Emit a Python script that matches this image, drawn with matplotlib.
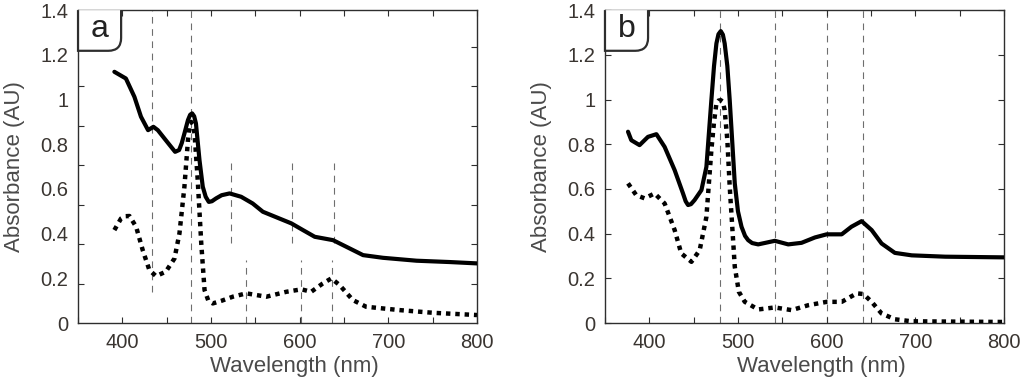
import numpy as np
import matplotlib
matplotlib.use('Agg')
import matplotlib.pyplot as plt
from matplotlib.path import Path
from matplotlib.patches import PathPatch
from matplotlib.ticker import MultipleLocator, FixedLocator

plt.rcParams['font.family'] = ['Liberation Sans', 'DejaVu Sans']

# panel a, solid spectrum
wl_a_solid = [391, 404, 413.6, 421, 429, 435, 440, 449, 459.5, 464, 467, 470, 474, 476.5,
              478.7, 481, 483, 487, 490.7, 494, 497.5, 501, 505.8, 512, 521, 534, 547,
              558.5, 577, 590.6, 603.7, 617, 637.6, 652.8, 671.5, 694, 731.8, 769.5, 800]
abs_a_solid = [1.124, 1.094, 1.012, 0.923, 0.863, 0.878, 0.863, 0.818, 0.766, 0.774, 0.805,
               0.848, 0.908, 0.932, 0.938, 0.925, 0.893, 0.729, 0.61, 0.565, 0.542, 0.545,
               0.558, 0.572, 0.58, 0.565, 0.535, 0.498, 0.468, 0.446, 0.416, 0.386, 0.371,
               0.341, 0.304, 0.292, 0.279, 0.273, 0.267]

# panel a, dotted spectrum
wl_a_dot = [391, 398.5, 403, 408, 415.5, 423, 430.5, 438, 449, 458.8, 464.4, 470, 474,
            476, 477.6, 479.5, 481.4, 485, 489, 492.7, 497, 502, 512, 524.6, 539.8, 562.4,
            585, 602, 613, 626, 635.8, 645, 660, 675, 713, 750.6, 800]
abs_a_dot = [0.416, 0.468, 0.478, 0.479, 0.431, 0.326, 0.237, 0.21, 0.23, 0.289, 0.401,
             0.61, 0.818, 0.885, 0.9, 0.89, 0.848, 0.64, 0.356, 0.148, 0.1, 0.088, 0.1,
             0.118, 0.133, 0.118, 0.14, 0.151, 0.14, 0.177, 0.2, 0.17, 0.103, 0.073,
             0.058, 0.046, 0.036]

# panel b, solid spectrum
wl_b_solid = [376, 379.7, 389, 398.5, 408, 417.3, 428.6, 438, 441, 443.7, 447, 451, 458.8,
              464.4, 470, 473, 475.7, 478, 480.6, 483, 485, 488, 490.7, 496.4, 500, 504,
              508, 511.5, 516, 522.8, 541.6, 556.7, 571.7, 586.8, 600, 617, 628, 639.5,
              650.8, 662, 677, 696, 733.7, 800]
abs_b_solid = [0.856, 0.818, 0.796, 0.833, 0.845, 0.788, 0.684, 0.58, 0.545, 0.528, 0.532,
               0.55, 0.595, 0.699, 0.997, 1.15, 1.251, 1.292, 1.306, 1.29, 1.251, 1.15,
               0.997, 0.625, 0.5, 0.431, 0.39, 0.371, 0.358, 0.352, 0.368, 0.352, 0.359,
               0.383, 0.397, 0.397, 0.431, 0.456, 0.416, 0.356, 0.314, 0.303, 0.297, 0.294]

# panel b, dotted spectrum
wl_b_dot = [376, 385.3, 394.7, 406, 417.3, 428.6, 436, 447.5, 456.8, 464.4, 470, 473,
            475.7, 478, 480.6, 483, 485, 488, 490.7, 496.4, 501, 507.7, 522.8, 541.6,
            560.5, 579.3, 600, 617, 634, 641.5, 650.8, 662, 677, 696, 800]
abs_b_dot = [0.625, 0.572, 0.558, 0.58, 0.535, 0.416, 0.312, 0.274, 0.326, 0.475, 0.774,
             0.9, 0.983, 0.995, 0.997, 0.99, 0.953, 0.82, 0.61, 0.252, 0.14, 0.095, 0.061,
             0.07, 0.058, 0.08, 0.095, 0.095, 0.133, 0.13, 0.095, 0.043, 0.017, 0.008, 0.005]

# guide lines: wavelength, y from, y to
guides_a = [(434, 0.14, 1.4), (477, 0.0, 1.4), (522, 0.356, 0.72), (591, 0.356, 0.72),
            (639, 0.356, 0.72), (540, 0.0, 0.28), (602, 0.0, 0.28), (636, 0.0, 0.28)]
guides_b = [(479.5, 0.0, 1.4), (541.6, 0.0, 1.4), (600, 0.0, 1.4), (640.7, 0.0, 1.4)]

x_ticks = [400, 500, 600, 700, 800]
y_ticks = [0, 0.2, 0.4, 0.6, 0.8, 1.0, 1.2, 1.4]
y_tick_labels = ['0', '0.2', '0.4', '0.6', '0.8', '1', '1.2', '1.4']

tick_col = '#3a3531'
label_col = '#4a4a4a'
spine_col = '#2e2e2e'


def panel_tag(ax, letter):
    # box with a rounded lower-right corner, like the original figure
    w, h = 0.108, 0.130
    rx, ry = 0.032, 0.041
    verts = [(0, 1), (0, 1 - h), (w - rx, 1 - h), (w, 1 - h), (w, 1 - h + ry), (w, 1)]
    codes = [Path.MOVETO, Path.LINETO, Path.LINETO, Path.CURVE3, Path.CURVE3, Path.LINETO]
    patch = PathPatch(Path(verts, codes), facecolor='white', edgecolor=spine_col,
                      lw=1.6, transform=ax.transAxes, clip_on=False, zorder=5)
    ax.add_patch(patch)
    ax.text(w / 2, 1 - h / 2 + 0.005, letter, transform=ax.transAxes, fontsize=23,
            ha='center', va='center', color='#222222', zorder=6)


def setup(ax, wl_s, ab_s, wl_d, ab_d, guides, letter, ymarks=None):
    for x, y0, y1 in guides:
        ax.vlines(x, y0, y1, colors='#6e6e6e', lw=0.8, linestyles=(0, (6, 5)), zorder=1)
    ax.plot(wl_s, ab_s, color='black', lw=3.0, solid_capstyle='round',
            solid_joinstyle='round', zorder=3)
    ax.plot(wl_d, ab_d, color='black', lw=3.2, linestyle=(0, (1, 1.1)),
            dash_capstyle='butt', zorder=3)
    ax.set_xlim(350, 800)
    ax.set_ylim(0, 1.4)
    ax.set_xticks(x_ticks)
    ax.xaxis.set_minor_locator(MultipleLocator(50))
    ax.set_yticks(y_ticks)
    ax.set_yticklabels(y_tick_labels)
    ax.tick_params(which='both', direction='in', top=True, right=True, length=4,
                   width=0.8, color=spine_col, labelsize=14.5, labelcolor=tick_col, pad=7)
    if ymarks is not None:
        # tick marks of panel a sit off the label positions in the source figure
        ax.tick_params(axis='y', which='major', length=0)
        ax.yaxis.set_minor_locator(FixedLocator(ymarks))
    for s in ax.spines.values():
        s.set_color(spine_col)
        s.set_linewidth(1.0)
    ax.set_xlabel('Wavelength (nm)', fontsize=16, color=label_col)
    ax.set_ylabel('Absorbance (AU)', fontsize=16, color=label_col)
    ax.xaxis.set_label_coords(0.543, -0.105)
    ax.yaxis.set_label_coords(-0.133, 0.5)
    panel_tag(ax, letter)


fig = plt.figure(figsize=(10.24, 3.81), dpi=100)
ax_a = fig.add_axes([0.0762, 0.152, 0.3896, 0.8215])
ax_b = fig.add_axes([0.5908, 0.152, 0.3896, 0.8215])

setup(ax_a, wl_a_solid, abs_a_solid, wl_a_dot, abs_a_dot, guides_a, 'a',
      ymarks=[0.1767 * k for k in range(1, 8)])
setup(ax_b, wl_b_solid, abs_b_solid, wl_b_dot, abs_b_dot, guides_b, 'b')

fig.savefig('out.png', dpi=100, facecolor='white')
